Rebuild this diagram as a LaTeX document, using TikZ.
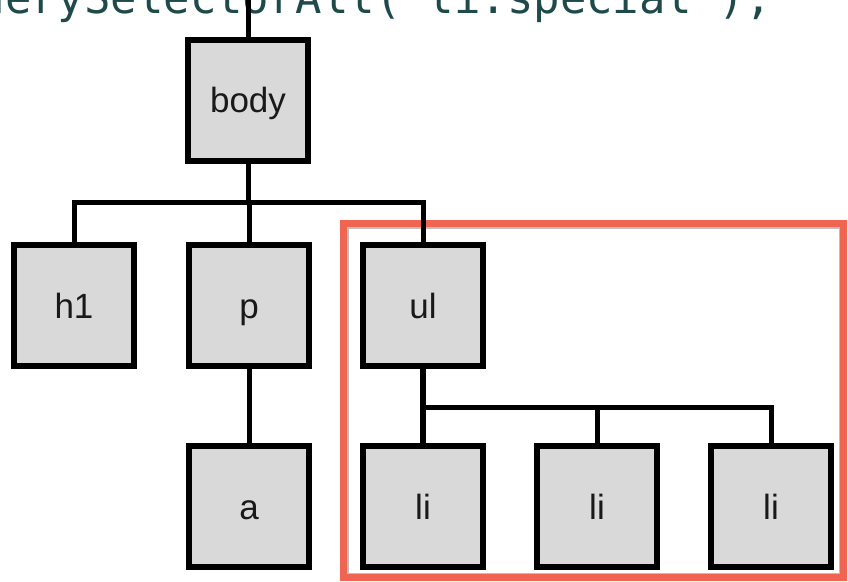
\documentclass[tikz,border=0pt]{standalone}
\usepackage{fontspec}
\setmainfont{Liberation Sans}
\newfontfamily\codefont{DejaVu Sans Mono}
\definecolor{boxfill}{HTML}{D9D9D9}
\definecolor{hilite}{HTML}{F06452}
\definecolor{codecol}{HTML}{1F4A4C}
\begin{document}
\begin{tikzpicture}[x=1pt,y=-1pt,
  treebox/.style={draw=black,fill=boxfill,line width=6pt,minimum width=120pt,minimum height=121pt,inner sep=0pt,text height=25pt,text depth=0pt,font=\fontsize{35}{40}\selectfont,text=black!90},
  link/.style={draw=black,line width=5pt}]
\useasboundingbox (0,0) rectangle (848,581);
\clip (0,0) rectangle (848,581);
\fill[white] (0,0) rectangle (848,581);
% code line (clipped at the top, as in the reference)
\node[anchor=base west,inner sep=0pt,text=codecol,font=\codefont\fontsize{43.9}{50}\selectfont] (code) at (-48,13) {querySelectorAll('li.special');};
% highlight frame
\draw[black!25,line width=1.5pt] (347.75,227.75) rectangle (839.25,573.25);
\draw[hilite,line width=7pt] (343.5,223.5) rectangle (843.5,577.5);
% nodes
\node[treebox] (body) at (248,100) {body};
\node[treebox] (h1) at (74,305.5) {h1};
\node[treebox] (p) at (249,305.5) {p};
\node[treebox] (ul) at (423,305.5) {ul};
\node[treebox] (a) at (249,506.5) {a};
\node[treebox] (li1) at (423,506.5) {li};
\node[treebox] (li2) at (597,506.5) {li};
\node[treebox] (li3) at (771,506.5) {li};
\coordinate (top) at (248,-5);
\coordinate (bus1) at (0,202);
\coordinate (bus2) at (0,407);
% connectors
\draw[link] (top) -- (body.north);
\draw[link] (body.south) -- (body.south |- bus1);
\draw[link,line join=miter] (h1.north) -- (h1.north |- bus1) -- (ul.north |- bus1) -- (ul.north);
\draw[link] (p.north) -- (p.north |- bus1);
\draw[link] (p.south) -- (a.north);
\draw[link,line width=6pt] (ul.south) -- (li1.north);
\draw[link,line join=miter] (ul.south |- bus2) -- (li3.north |- bus2) -- (li3.north);
\draw[link] (li2.north |- bus2) -- (li2.north);
% redraw boxes over connector ends
\node[treebox] at (body) {body};
\node[treebox] at (h1) {h1};
\node[treebox] at (p) {p};
\node[treebox] at (ul) {ul};
\node[treebox] at (a) {a};
\node[treebox] at (li1) {li};
\node[treebox] at (li2) {li};
\node[treebox] at (li3) {li};
\end{tikzpicture}
\end{document}
